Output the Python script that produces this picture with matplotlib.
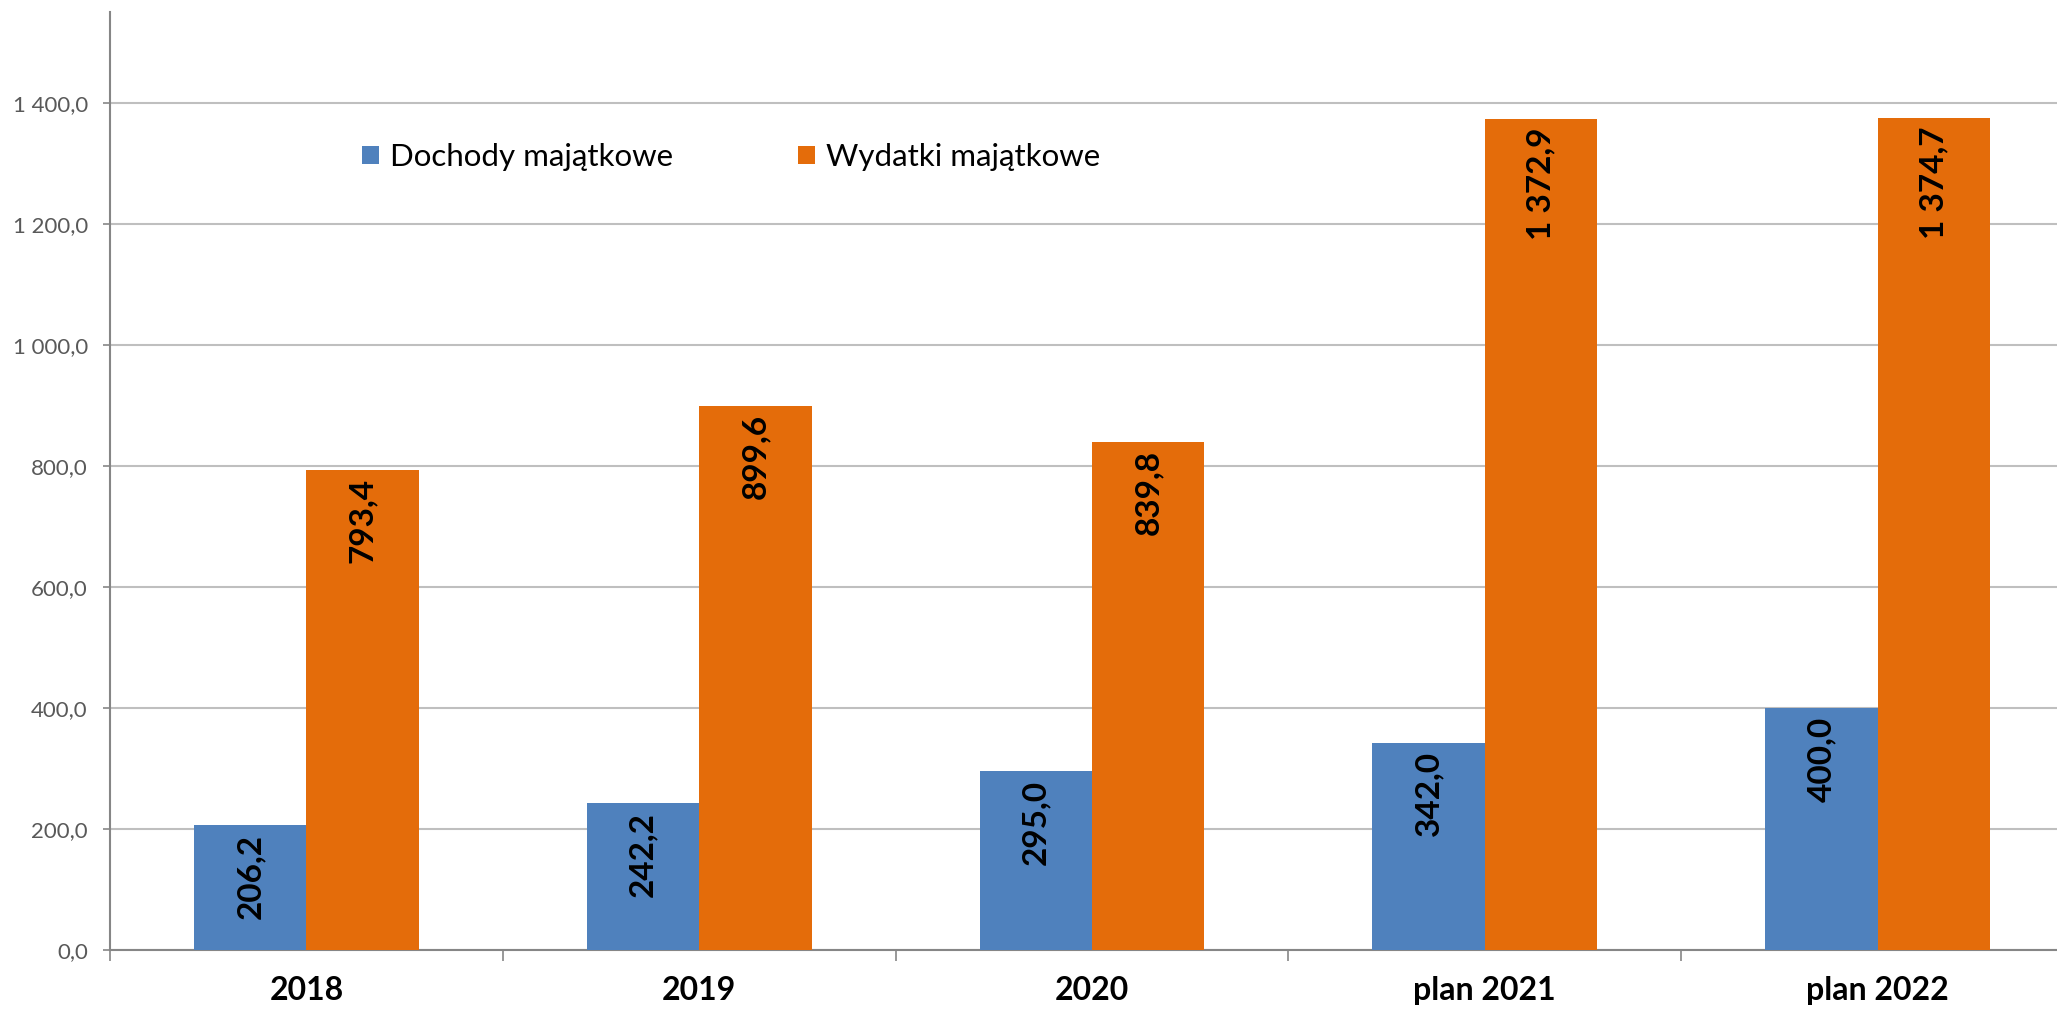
import matplotlib
matplotlib.use('Agg')
from matplotlib import pyplot as plt
from matplotlib.ticker import FuncFormatter
import numpy as np

plt.rcParams['font.family'] = ['Lato', 'DejaVu Sans']

# dane
kategorie = ['2018', '2019', '2020', 'plan 2021', 'plan 2022']
dochody = [206.2, 242.2, 295.0, 342.0, 400.0]
wydatki = [793.4, 899.6, 839.8, 1372.9, 1374.7]
serie = ['Dochody majątkowe', 'Wydatki majątkowe']
kolory = ['#4F81BD', '#E46C0A']


def fmt_pl(v, pos=None):
    s = f'{v:,.1f}'
    return s.replace(',', ' ').replace('.', ',')


W, H = 2057, 1010
fig = plt.figure(figsize=(W / 100, H / 100), dpi=100)
ax = fig.add_axes([110 / W, 60 / H, (2074 - 110) / W, (950 - 12) / H])

x = np.arange(len(kategorie))
bw = 0.286
b1 = ax.bar(x - bw / 2, dochody, bw, color=kolory[0], label=serie[0], zorder=3)
b2 = ax.bar(x + bw / 2, wydatki, bw, color=kolory[1], label=serie[1], zorder=3)

for bars in (b1, b2):
    for r in bars:
        v = r.get_height()
        ax.annotate(fmt_pl(v), (r.get_x() + r.get_width() / 2, v),
                    xytext=(0, -6), textcoords='offset points',
                    rotation=90, ha='center', va='top',
                    fontsize=24, fontweight='bold', color='black', zorder=4)

ax.set_ylim(0, 1550)
ax.set_xlim(-0.5, 4.5)
ax.set_yticks(np.arange(0, 1401, 200))
ax.yaxis.set_major_formatter(FuncFormatter(fmt_pl))
ax.tick_params(axis='y', labelsize=16, labelcolor='#595959', color='#868686',
               length=5, width=1.2, pad=11)
ax.grid(axis='y', color='#BFBFBF', linewidth=1.5, zorder=0)

ax.set_xticks(np.arange(-0.5, 5, 1))
ax.set_xticklabels([])
ax.set_xticks(x, minor=True)
ax.set_xticklabels(kategorie, minor=True, fontsize=23, fontweight='bold')
ax.tick_params(axis='x', which='major', length=8, width=1.2, color='#868686')
ax.tick_params(axis='x', which='minor', length=0, pad=19)

for s in ('top', 'right'):
    ax.spines[s].set_visible(False)
for s in ('left', 'bottom'):
    ax.spines[s].set_color('#868686')
    ax.spines[s].set_linewidth(1.5)
ax.set_axisbelow(True)

fig.legend(handles=[b1, b2], labels=serie, loc='center left',
           bbox_to_anchor=(362 / W, 1 - 157 / H), ncol=2, frameon=False,
           fontsize=22.5, handlelength=0.55, handleheight=0.55,
           handletextpad=0.35, columnspacing=4.0, borderpad=0,
           borderaxespad=0)

fig.savefig('out.png', dpi=100)
